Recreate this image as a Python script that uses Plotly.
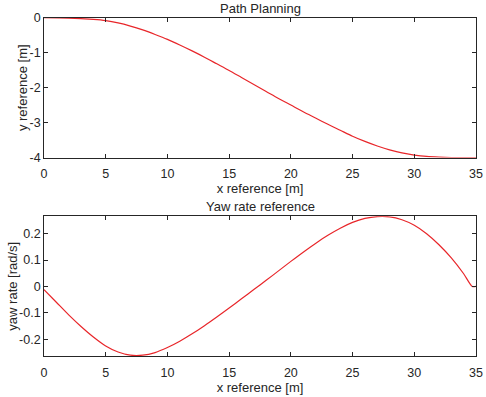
import plotly.graph_objects as go

# Path planning data (x reference [m], y reference [m])
path_x = [0, 2, 4, 5, 6, 7, 8, 9, 10, 11, 12, 13, 14, 15, 16, 17, 18, 19, 20, 21,
          22, 23, 24, 25, 26, 27, 28, 29, 30, 31, 32, 33, 34, 35]
path_y = [0, -0.01, -0.05, -0.085, -0.15, -0.24, -0.35, -0.48, -0.62, -0.78, -0.95,
          -1.13, -1.32, -1.51, -1.71, -1.91, -2.11, -2.31, -2.50, -2.69, -2.87, -3.05,
          -3.22, -3.39, -3.54, -3.67, -3.78, -3.87, -3.93, -3.97, -3.99, -4.0, -4.0, -4.0]

# Yaw rate reference data
yaw_x = [0, 1, 2, 3, 4, 5, 6, 7, 8, 9, 10, 11, 12, 13, 14, 15, 16, 17, 18, 19, 20,
         21, 22, 23, 24, 25, 26, 27, 28, 29, 30, 31, 32, 33, 34, 34.7, 35]
yaw_rate = [-0.012, -0.06, -0.108, -0.152, -0.192, -0.226, -0.249, -0.261, -0.261, -0.251,
            -0.232, -0.208, -0.18, -0.149, -0.116, -0.082, -0.047, -0.012, 0.023, 0.059,
            0.095, 0.13, 0.163, 0.194, 0.221, 0.243, 0.258, 0.265, 0.264, 0.253, 0.232,
            0.2, 0.158, 0.108, 0.048, 0.0, 0.0]

x_ticks = [0, 5, 10, 15, 20, 25, 30, 35]
path_ticks = [0, -1, -2, -3, -4]
path_tick_text = ["0", "-1", "-2", "-3", "-4"]
yaw_ticks = [-0.2, -0.1, 0, 0.1, 0.2]
yaw_tick_text = ["-0.2", "-0.1", "0", "0.1", "0.2"]

W, H = 486, 397
FONT = "Liberation Sans, Arial, sans-serif"
TXT = "#262626"
LINE = "#262626"
RED = "#e8262a"

fig = go.Figure()
fig.add_trace(go.Scatter(x=path_x, y=path_y, mode="lines",
                         line=dict(color=RED, width=1.2, shape="spline", smoothing=0.8),
                         xaxis="x", yaxis="y", showlegend=False))
fig.add_trace(go.Scatter(x=yaw_x, y=yaw_rate, mode="lines",
                         line=dict(color=RED, width=1.2, shape="spline", smoothing=0.8),
                         xaxis="x2", yaxis="y2", showlegend=False))

xl, xr = 44 / W, 476 / W
top = (1 - 157.5 / H, 1 - 17.7 / H)
bot = (1 - 356 / H, 1 - 216.3 / H)

axcommon = dict(showline=True, mirror="ticks", linecolor=LINE, linewidth=0.8,
                ticks="inside", ticklen=4, tickcolor=LINE, tickwidth=0.8,
                showgrid=False, zeroline=False, automargin=False,
                tickfont=dict(family=FONT, size=12.5, color=TXT))
tfont = dict(family=FONT, size=13, color=TXT)

fig.update_layout(
    width=W, height=H,
    margin=dict(l=0, r=0, t=0, b=0),
    paper_bgcolor="white", plot_bgcolor="white",
    xaxis=dict(domain=[xl, xr], range=[0, 35], tickvals=x_ticks, anchor="y",
               ticklabelstandoff=5,
               title=dict(text="x reference [m]", font=tfont, standoff=2),
               **axcommon),
    yaxis=dict(domain=list(top), range=[-4, 0], tickvals=path_ticks,
               ticktext=path_tick_text, anchor="x",
               **axcommon),
    xaxis2=dict(domain=[xl, xr], range=[0, 35], tickvals=x_ticks, anchor="y2",
                ticklabelstandoff=5,
                title=dict(text="x reference [m]", font=tfont, standoff=2),
                **axcommon),
    yaxis2=dict(domain=list(bot), range=[-0.264, 0.266], tickvals=yaw_ticks,
                ticktext=yaw_tick_text, anchor="x2",
                **axcommon),
    annotations=[
        dict(text="Path Planning", x=(xl + xr) / 2, y=top[1], xref="paper", yref="paper",
             xanchor="center", yanchor="bottom", showarrow=False, yshift=0,
             font=tfont),
        dict(text="Yaw rate reference", x=(xl + xr) / 2, y=bot[1], xref="paper", yref="paper",
             xanchor="center", yanchor="bottom", showarrow=False, yshift=0,
             font=tfont),
        dict(text="y reference [m]", x=22.5 / W, y=(top[0] + top[1]) / 2, xref="paper",
             yref="paper", xanchor="center", yanchor="middle", textangle=-90,
             showarrow=False, font=tfont),
        dict(text="yaw rate [rad/s]", x=12.5 / W, y=(bot[0] + bot[1]) / 2, xref="paper",
             yref="paper", xanchor="center", yanchor="middle", textangle=-90,
             showarrow=False, font=tfont),
    ],
)

fig.write_html("out.html", config={"displayModeBar": False},
               post_script="document.body.style.margin='0';document.body.style.overflow='hidden';")
